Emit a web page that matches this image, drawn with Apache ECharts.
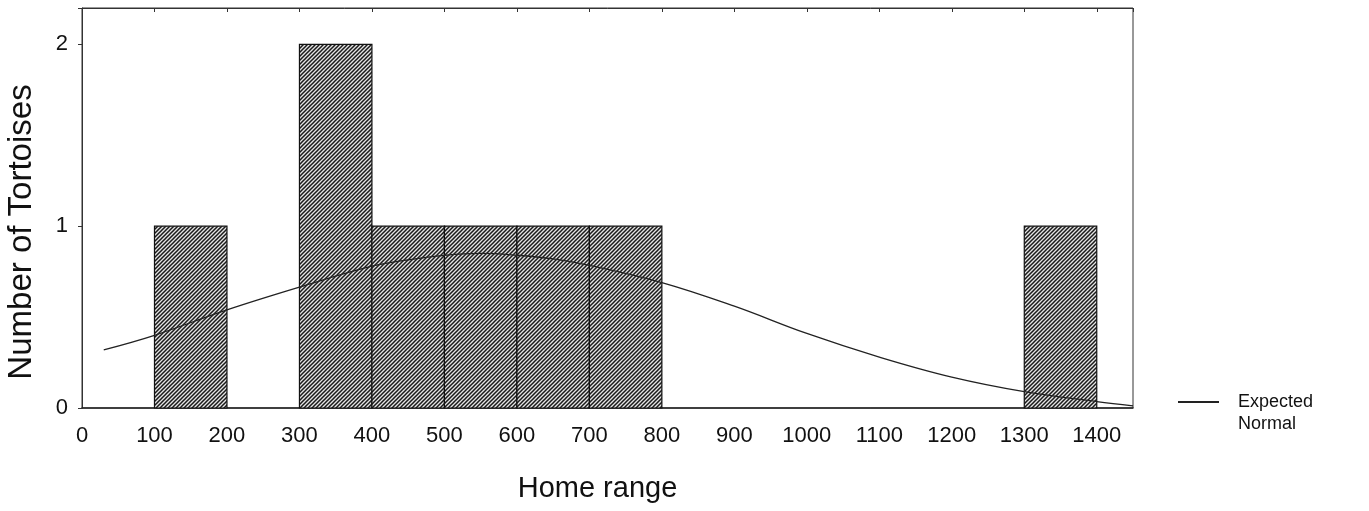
<!DOCTYPE html>
<html>
<head>
<meta charset="utf-8">
<script src="https://cdn.jsdelivr.net/npm/echarts@6/dist/echarts.min.js"></script>
<style>
  html, body { margin: 0; padding: 0; background: #fff; }
</style>
</head>
<body>
<div id="histogram" style="width:1369px;height:511px"></div>
<script>
// histogram bins: [from, to] and counts
var binStart = [100, 300, 400, 500, 600, 700, 1300]
var binEnd = [200, 400, 500, 600, 700, 800, 1400]
var binCount = [1, 2, 1, 1, 1, 1, 1]

// expected normal curve
var curveX = [30, 100, 200, 300, 400, 450, 500, 550, 600, 650, 700, 800, 900, 1000, 1100, 1200, 1300, 1400, 1450]
var curveY = [0.32, 0.40, 0.54, 0.665, 0.78, 0.815, 0.84, 0.85, 0.84, 0.82, 0.785, 0.69, 0.56, 0.41, 0.28, 0.17, 0.09, 0.035, 0.012]

var xTicks = [0, 1450, 100]
var yTicks = [0, 2.2, 1]

// hatch fill like the scanned figure
function hatch () {
  var c = document.createElement('canvas')
  c.width = 4
  c.height = 4
  var ctx = c.getContext('2d')
  ctx.fillStyle = '#e4e4e4'
  ctx.fillRect(0, 0, 4, 4)
  ctx.strokeStyle = '#1a1a1a'
  ctx.lineWidth = 1.5
  ctx.beginPath()
  ctx.moveTo(-1, 5); ctx.lineTo(5, -1)
  ctx.moveTo(-3, 3); ctx.lineTo(3, -3)
  ctx.moveTo(1, 7); ctx.lineTo(7, 1)
  ctx.stroke()
  return c
}

var bins = []
for (var i = 0; i < binStart.length; i++) {
  bins.push([binStart[i], binEnd[i], binCount[i]])
}
var curve = []
for (var j = 0; j < curveX.length; j++) {
  curve.push([curveX[j], curveY[j]])
}

var font = 'Liberation Sans, Arial, sans-serif'
var chart = echarts.init(document.getElementById('histogram'))
chart.setOption({
  backgroundColor: '#fff',
  animation: false,
  textStyle: { fontFamily: font, color: '#111' },
  grid: {
    left: 82, right: 236, top: 8, bottom: 103,
    outerBoundsMode: 'none',
    show: true, borderColor: '#333', borderWidth: 1
  },
  legend: {
    left: 1172,
    top: 364,
    itemWidth: 41,
    itemHeight: 14,
    itemGap: 0,
    itemStyle: { opacity: 0 },
    data: ['Expected Normal'],
    formatter: function () { return '\nExpected\nNormal' },
    textStyle: { fontFamily: font, fontSize: 18, color: '#111', lineHeight: 22, padding: [0, 0, 0, 14] }
  },
  xAxis: [
    {
      type: 'value',
      min: xTicks[0], max: xTicks[1], interval: xTicks[2],
      name: 'Home range',
      nameLocation: 'middle',
      nameGap: 66,
      nameTextStyle: { fontSize: 29, color: '#111', padding: [0, 20, 0, 0] },
      axisLine: { show: true, lineStyle: { color: '#222', width: 1.5 } },
      axisTick: { show: false },
      splitLine: { show: false },
      axisLabel: {
        fontSize: 22, color: '#111', margin: 17,
        formatter: function (v) { return v % 100 === 0 ? String(v) : '' }
      }
    },
    {
      type: 'value',
      position: 'top',
      min: xTicks[0], max: xTicks[1], interval: xTicks[2],
      axisLine: { show: true, lineStyle: { color: '#333' } },
      axisTick: { show: true, inside: true, length: 4, lineStyle: { color: '#333' } },
      axisLabel: { show: false },
      splitLine: { show: false }
    }
  ],
  yAxis: {
    type: 'value',
    min: yTicks[0], max: yTicks[1], interval: yTicks[2],
    name: 'Number of Tortoises',
    nameLocation: 'middle',
    nameGap: 44,
    nameTextStyle: { fontSize: 33, color: '#111', padding: [0, 48, 0, 0] },
    axisLine: { show: true, lineStyle: { color: '#333' } },
    axisTick: { show: true, length: 4, lineStyle: { color: '#333' } },
    splitLine: { show: false },
    axisLabel: {
      fontSize: 22, color: '#111', margin: 14,
      formatter: function (v) { return v % 1 === 0 ? String(v) : '' }
    }
  },
  series: [
    {
      type: 'custom',
      name: 'bins',
      data: bins,
      encode: { x: [0, 1], y: 2 },
      renderItem: function (params, api) {
        var p0 = api.coord([api.value(0), api.value(2)])
        var p1 = api.coord([api.value(1), 0])
        return {
          type: 'rect',
          shape: { x: p0[0], y: p0[1], width: p1[0] - p0[0], height: p1[1] - p0[1] },
          style: { fill: { image: hatch(), repeat: 'repeat' }, stroke: '#111', lineWidth: 1.2 }
        }
      }
    },
    {
      type: 'line',
      name: 'Expected Normal',
      data: curve,
      smooth: 0.4,
      showSymbol: false,
      symbol: 'none',
      lineStyle: { color: '#222', width: 1.3 },
      itemStyle: { color: '#222' },
      z: 5
    }
  ]
})
</script>
</body>
</html>
